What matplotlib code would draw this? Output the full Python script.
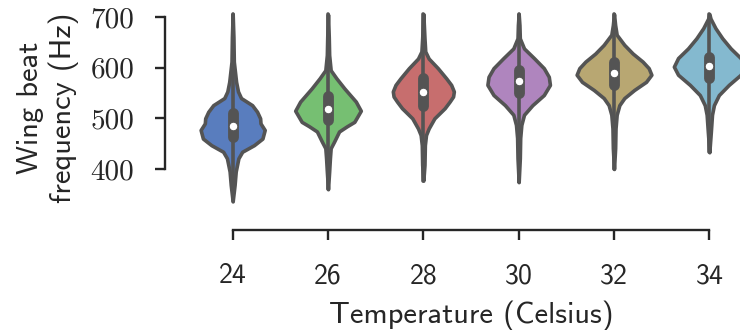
import colorsys
import matplotlib
matplotlib.use("Agg")
import matplotlib.pyplot as plt
import matplotlib.colors as mcolors

temps = ["24", "26", "28", "30", "32", "34"]
base_colors = ["#4878CF", "#6ACC65", "#D65F5F", "#B47CC7", "#C4AD66", "#77BEDB"]

# whisker ends, quartiles and medians (Hz)
lows = [336, 360, 377, 374, 400, 433]
highs = [706, 705, 706, 706, 706, 706]
q1s = [463, 496, 524, 549, 565, 579]
q3s = [510, 544, 579, 596, 612, 622]
medians = [485, 518, 551, 574, 589, 604]

# violin outlines: frequency (Hz) and relative density (1 = widest violin)
freq_24 = [336, 368, 395, 421, 434, 447, 460, 477, 490, 500, 513, 526, 540, 553, 572, 592, 612, 660, 706]
dens_24 = [0, .05, .08, .15, .25, .56, .78, .84, .73, .72, .64, .51, .22, .14, .09, .06, .03, .02, 0]
freq_26 = [360, 395, 421, 441, 454, 474, 484, 493, 515, 533, 559, 579, 595, 625, 660, 705]
dens_26 = [0, .03, .05, .07, .16, .29, .49, .69, .86, .73, .43, .22, .07, .03, .02, 0]
freq_28 = [377, 408, 447, 467, 480, 500, 520, 533, 543, 553, 566, 579, 599, 618, 632, 658, 706]
dens_28 = [0, .03, .04, .07, .14, .29, .56, .69, .78, .80, .73, .60, .38, .14, .05, .03, 0]
freq_30 = [374, 421, 461, 487, 507, 526, 546, 566, 582, 599, 619, 638, 658, 684, 706]
dens_30 = [0, .03, .04, .07, .14, .36, .66, .82, .79, .66, .40, .14, .03, .02, 0]
freq_32 = [400, 441, 480, 507, 526, 540, 556, 572, 586, 599, 612, 628, 645, 665, 684, 706]
dens_32 = [0, .03, .04, .07, .14, .27, .53, .84, .98, .91, .75, .49, .27, .07, .03, 0]
freq_34 = [433, 474, 507, 526, 546, 566, 586, 602, 619, 638, 658, 678, 697, 706]
dens_34 = [0, .04, .07, .12, .25, .51, .82, .93, .82, .56, .34, .16, .03, 0]

freqs = [freq_24, freq_26, freq_28, freq_30, freq_32, freq_34]
denss = [dens_24, dens_26, dens_28, dens_30, dens_32, dens_34]


def desaturate(c, prop):
    h, l, s = colorsys.rgb_to_hls(*mcolors.to_rgb(c))
    return colorsys.hls_to_rgb(h, l, s * prop)


colors = [desaturate(c, 0.75) for c in base_colors]
gray = "#545454"
ink = "#262626"
lw = 2.6

fig = plt.figure(figsize=(7.4, 3.3), dpi=100)
ax = fig.add_axes([185 / 740, 120 / 330, 572 / 740, 205 / 330])

stats = []
for i in range(len(temps)):
    stats.append(dict(coords=freqs[i], vals=denss[i], mean=medians[i],
                      median=medians[i], min=lows[i], max=highs[i]))
widths = [0.8 * max(d) for d in denss]
parts = ax.violin(stats, positions=range(len(temps)), widths=widths,
                  showmeans=False, showextrema=False, showmedians=False)
for body, c in zip(parts["bodies"], colors):
    body.set_facecolor(c)
    body.set_edgecolor(gray)
    body.set_linewidth(lw)
    body.set_alpha(1)
    body.set_joinstyle("round")

for i in range(len(temps)):
    ax.plot([i, i], [lows[i], highs[i]], color=gray, lw=lw, solid_capstyle="round")
    ax.plot([i, i], [q1s[i], q3s[i]], color=gray, lw=lw * 3, solid_capstyle="round")
    ax.scatter(i, medians[i], s=(lw * 2.4) ** 2, color="white", edgecolor=gray,
               linewidth=0.8, zorder=3)

ax.set_xlim(-0.5, 5.5)
ax.set_ylim(319, 723.7)

for side in ["top", "right"]:
    ax.spines[side].set_visible(False)
ax.spines["left"].set_position(("outward", 14.4))
ax.spines["bottom"].set_position(("outward", 14.4))
ax.spines["left"].set_bounds(400, 700)
ax.spines["bottom"].set_bounds(0, 5)
for side in ["left", "bottom"]:
    ax.spines[side].set_linewidth(1.7)
    ax.spines[side].set_color(ink)

ax.set_yticks([400, 500, 600, 700])
ax.set_yticklabels(["400", "500", "600", "700"], family="cmr10", fontsize=21, color=ink)
ax.set_xticks(range(len(temps)))
ax.set_xticklabels(temps, family="cmss10", fontsize=20, color=ink)
ax.tick_params(axis="both", length=7, width=1.7, color=ink)
ax.tick_params(axis="y", pad=15)
ax.tick_params(axis="x", pad=17)

ax.set_xlabel("Temperature (Celsius)", family="cmss10", fontsize=22, color=ink)
ax.xaxis.set_label_coords(0.5, -0.44)
ax.set_ylabel("Wing beat\nfrequency (Hz)", family="cmss10", fontsize=22, color=ink,
              linespacing=1.2)
ax.yaxis.set_label_coords(-0.185, 0.5)

fig.savefig("out.png", dpi=100)
